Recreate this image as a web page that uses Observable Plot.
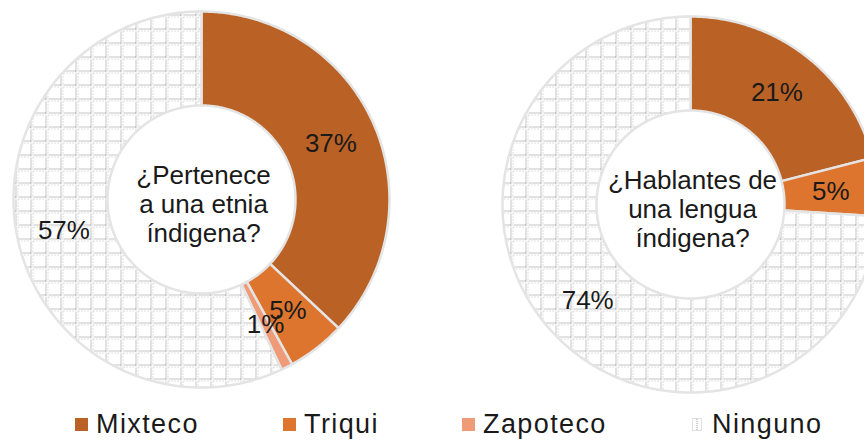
<!DOCTYPE html>
<html>
<head>
<meta charset="utf-8">
<script src="https://cdn.jsdelivr.net/npm/d3@7"></script>
<script src="https://cdn.jsdelivr.net/npm/@observablehq/plot@0.6"></script>
<style>
  html, body { margin: 0; padding: 0; background: #fff; }
  #wrap { width: 864px; height: 440px; overflow: hidden; position: relative; }
  #legend { position: absolute; left: 0; top: 400px; width: 864px; height: 40px;
    font-family: "Liberation Sans", Arial, sans-serif; font-size: 27px; color: #1a1a1a; }
  .item { position: absolute; top: 9px; display: flex; align-items: center; letter-spacing: 1.4px; }
  .sw { width: 13px; height: 13px; margin-right: 8px; }
</style>
</head>
<body>
<div id="wrap"><div id="chart"></div><div id="legend"></div></div>
<script>
// ---- data ----
const categories = ["Mixteco", "Triqui", "Zapoteco", "Ninguno"];
const etniaValues = [37, 5, 1, 57];
const lenguaValues = [21, 5, 0, 74];
const questions = ["¿Pertenece\na una etnia\níndigena?", "¿Hablantes de\nuna lengua\níndigena?"];
const colors = ["#BA6226", "#DE752F", "#F09B77", "url(#ninguno)"];

// ---- layout (in units of the outer radius) ----
const W = 864, H = 400, R = 188;
const innerRatio = 0.5;
const centers = [[0, 0], [489 / R, -5 / R]];
const xDomain = [-201 / R, (W - 201) / R];
const yDomain = [-(H - 199) / R, 199 / R];

const series = [etniaValues, lenguaValues];
const slicePts = [];
const labels = [];
const centerText = [];
series.forEach((vals, k) => {
  const [cx, cy] = centers[k];
  const rows = categories.map((c, i) => ({cat: c, value: vals[i]}));
  const arcs = d3.pie().sort(null).value(d => d.value).startAngle(0).endAngle(2 * Math.PI)(rows);
  arcs.forEach((a, i) => {
    if (a.data.value <= 0) return;
    const id = k + "-" + i;
    const n = Math.max(2, Math.ceil((a.endAngle - a.startAngle) / 0.01));
    const outer = [], inner = [];
    for (let j = 0; j <= n; j++) {
      const t = a.startAngle + (a.endAngle - a.startAngle) * j / n;
      outer.push({id, cat: a.data.cat, x: cx + Math.sin(t), y: cy + Math.cos(t)});
      inner.push({id, cat: a.data.cat, x: cx + innerRatio * Math.sin(t), y: cy + innerRatio * Math.cos(t)});
    }
    slicePts.push(...outer, ...inner.reverse());
    const m = (a.startAngle + a.endAngle) / 2, rm = (1 + innerRatio) / 2;
    labels.push({x: cx + rm * Math.sin(m), y: cy + rm * Math.cos(m), text: a.data.value + "%"});
  });
  centerText.push({x: cx, y: cy, text: questions[k]});
});

const chart = Plot.plot({
  width: W, height: H,
  margin: 0,
  x: {domain: xDomain, axis: null},
  y: {domain: yDomain, axis: null},
  color: {domain: categories, range: colors},
  style: {fontFamily: "'Liberation Sans', Arial, sans-serif", background: "#fff", overflow: "visible"},
  marks: [
    Plot.line(slicePts, {x: "x", y: "y", z: "id", fill: "cat", stroke: "#e4e4e4", strokeWidth: 2.5, curve: "linear-closed"}),
    Plot.text(labels, {x: "x", y: "y", text: "text", fontSize: 26, fill: "#1a1a1a"}),
    Plot.text(centerText, {x: "x", y: "y", text: "text", fontSize: 26, lineHeight: 1.12, dx: 2, dy: 4, fill: "#1a1a1a"})
  ]
});

const patternDef = `<pattern id="ninguno" patternUnits="userSpaceOnUse" width="15" height="14">
  <rect width="15" height="14" fill="#ffffff"/>
  <line x1="0.5" y1="0" x2="0.5" y2="14" stroke="#8a8a8a" stroke-width="1" stroke-dasharray="1 1"/>
  <line x1="0" y1="0.5" x2="15" y2="0.5" stroke="#8a8a8a" stroke-width="1" stroke-dasharray="1 1"/>
  <line x1="2.5" y1="0" x2="2.5" y2="14" stroke="#c4c4c4" stroke-width="1" stroke-dasharray="1 2"/>
  <line x1="0" y1="2.5" x2="15" y2="2.5" stroke="#c4c4c4" stroke-width="1" stroke-dasharray="1 2"/>
</pattern>`;
d3.select(chart).insert("defs", ":first-child").html(patternDef);
document.getElementById("chart").appendChild(chart);

// ---- legend ----
const legendLeft = [75, 283, 462, 692];
const legend = document.getElementById("legend");
categories.forEach((c, i) => {
  const item = document.createElement("div");
  item.className = "item";
  item.style.left = legendLeft[i] + "px";
  let sw;
  if (i === 3) {
    sw = `<svg class="sw" width="10" height="13" style="width:10px;margin-right:10px"><defs>${patternDef.replace('id="ninguno"', 'id="ninguno2"')}</defs><rect x="0.5" y="0.5" width="9" height="12" fill="#fff" stroke="#e0e0e0"/><line x1="5" y1="1" x2="5" y2="12" stroke="#9a9a9a" stroke-dasharray="1 1"/></svg>`;
  } else {
    sw = `<div class="sw" style="background:${colors[i]}"></div>`;
  }
  item.innerHTML = sw + `<span>${c}</span>`;
  legend.appendChild(item);
});
</script>
</body>
</html>
